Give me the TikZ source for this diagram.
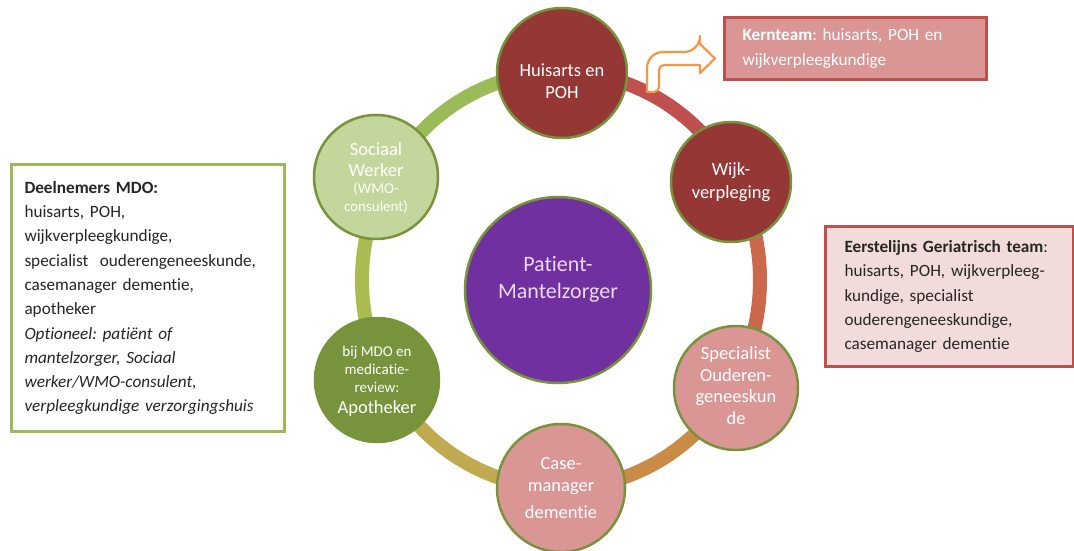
\documentclass[tikz,border=0pt]{standalone}
\usepackage{fontspec}
\setmainfont{Carlito}[Ligatures=NoCommon]

\definecolor{rim}{HTML}{77933C}
\definecolor{darkred}{HTML}{953735}
\definecolor{rosy}{HTML}{D99694}
\definecolor{olive}{HTML}{77933C}
\definecolor{palegreen}{HTML}{C3D69B}
\definecolor{violet}{HTML}{7030A0}
\definecolor{lavender}{HTML}{EAD9F2}
\definecolor{boxred}{HTML}{C0504D}
\definecolor{boxpink}{HTML}{F2DCDB}
\definecolor{boxgreen}{HTML}{9BBB59}
\definecolor{arroworange}{HTML}{F79646}
\definecolor{segA}{HTML}{C0504D}
\definecolor{segB}{HTML}{C9684A}
\definecolor{segC}{HTML}{C98B46}
\definecolor{segD}{HTML}{C0AA50}
\definecolor{segE}{HTML}{AABC50}
\definecolor{segF}{HTML}{9BBB59}

\newcommand\bigline{\fontsize{18.5}{22.5}\selectfont}
\newcommand\smallline{\fontsize{15}{18}\selectfont}

\begin{document}
\frenchspacing
\begin{tikzpicture}[x=1pt,y=-1pt,
    member/.style={circle,draw=rim,line width=2.5pt,text=white,align=center,
                   inner sep=0pt,font=\bigline},
    seg/.style={line width=14pt},
    infobox/.style={line width=3pt,anchor=north west,align=left,
                    font=\fontsize{17.2}{24.3}\selectfont,inner ysep=0pt}]
    \useasboundingbox (0,0) rectangle (1074,551);

    % Ring behind the circles
    \coordinate (ring) at (561,280);
    \foreach \a/\b/\c in {-90/-30/segA,-30/30/segB,30/90/segC,90/150/segD,150/210/segE,210/270/segF}
        \draw[seg,\c] ([shift={(\a:199 and 208)}]ring) arc[start angle=\a,end angle=\b,x radius=199,y radius=208];

    % Members
    \node[member,fill=darkred,minimum size=130,text height=52pt] (huisarts) at (562,73) {Huisarts en\\POH};
    \node[member,fill=darkred,minimum size=120] (wijk) at (731,182) {Wijk-\\verpleging};
    \node[member,fill=rosy,minimum size=124,text height=73pt] (specialist) at (736,388) {Specialist\\[-1pt]Ouderen-\\[-1pt]geneeskun\\[-1pt]de};
    \node[member,fill=rosy,minimum size=128] (case) at (561,488) {Case-\\manager\\[4pt]dementie};
    \node[member,fill=olive,minimum size=124,text depth=-3pt] (apotheker) at (377,380) {\smallline bij MDO en\\[-5pt]\smallline medicatie-\\[-4pt]\smallline review:\\[-2pt]Apotheker};
    \node[member,fill=palegreen,minimum size=124,text depth=0pt] (sociaal) at (376,177) {Sociaal\\[-2pt]Werker\\[-5pt]\smallline (WMO-\\[-5pt]\smallline consulent)};

    % Centre
    \node[member,fill=violet,text=lavender,minimum size=186,text depth=25pt,font=\fontsize{22}{27}\selectfont] (patient) at (558,290) {Patient-\\Mantelzorger};

    % Bent arrow to the core team
    \draw[line width=2.2pt,arroworange,fill=white,line join=round]
        (647,92) [rounded corners=16] -- (647,52) -- (700,52) [sharp corners]
        -- (700,44) -- (715,58.5) -- (700,73) -- (700,65) [rounded corners=5]
        -- (659,65) -- (659,92) [sharp corners] -- cycle;

    % Text boxes
    \node[infobox,draw=boxred,fill=rosy,text=white,text width=226,inner xsep=18,minimum height=62] (kern) at (723,16)
        {\textbf{Kernteam}: huisarts, POH en\\wijkverpleegkundige};
    \node[infobox,draw=boxred,fill=boxpink,text=black!85,text width=210,inner xsep=19,minimum height=140] (egt) at (824,225)
        {\textbf{Eerstelijns Geriatrisch team}:\\huisarts, POH, wijkverpleeg-\\kundige, specialist\\ouderengeneeskundige,\\casemanager dementie};
    \node[infobox,draw=boxgreen,fill=white,text=black!85,text width=247,inner xsep=13,minimum height=267] (mdo) at (10,163)
        {\textbf{Deelnemers MDO:}\\huisarts, POH,\\wijkverpleegkundige,\\specialist\ \ ouderengeneeskunde,\\casemanager dementie,\\apotheker\\
         \textit{Optioneel: patiënt of}\\\textit{mantelzorger, Sociaal}\\\textit{werker/WMO-consulent,}\\\textit{verpleegkundige verzorgingshuis}};
\end{tikzpicture}
\end{document}
